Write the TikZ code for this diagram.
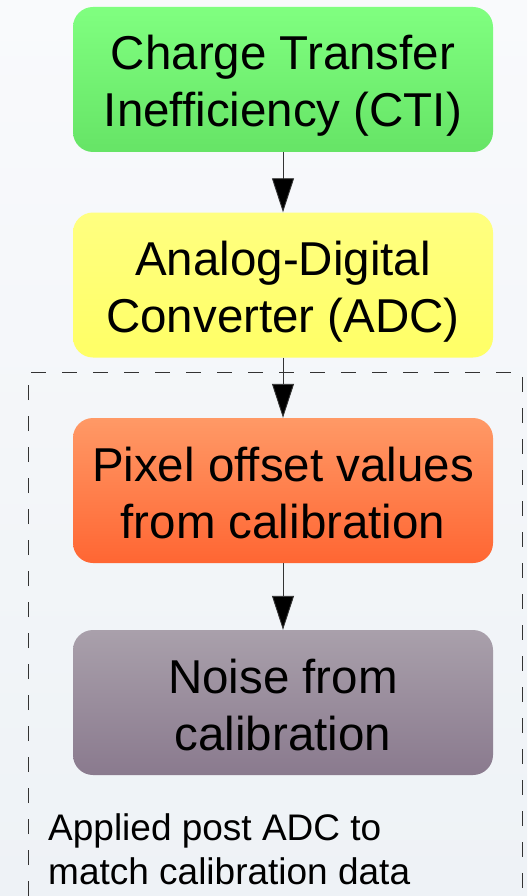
\documentclass[tikz,border=0pt]{standalone}
\usepackage{fontspec}
\setmainfont{Liberation Sans}
\usetikzlibrary{arrows.meta}
\definecolor{bgtop}{HTML}{F9FAFC}
\definecolor{bgbot}{HTML}{EEF2F6}
\definecolor{gtop}{HTML}{80FF80}
\definecolor{gbot}{HTML}{66E466}
\definecolor{ytop}{HTML}{FFFF80}
\definecolor{ybot}{HTML}{FFFF66}
\definecolor{otop}{HTML}{FF9966}
\definecolor{obot}{HTML}{FF6633}
\definecolor{ptop}{HTML}{A9A0AB}
\definecolor{pbot}{HTML}{8A7A8E}
\definecolor{edgegray}{HTML}{333333}
\tikzset{
  stagebox/.style={minimum width=420pt, minimum height=145pt, rounded corners=20pt, inner sep=0pt},
  stagetext/.style={anchor=base, align=center, inner sep=0pt, yshift=-47.5pt,
    font=\fontsize{47.5}{57}\selectfont, text=black},
  flow/.style={draw=edgegray, line width=0.9pt, -{Triangle[length=34pt,width=22pt,fill=black]}},
  cluster/.style={draw=edgegray, line width=0.9pt, dash pattern=on 15pt off 16pt},
}
\begin{document}
\begin{tikzpicture}[x=1pt,y=-1pt]
\shade[top color=bgtop, bottom color=bgbot] (0,0) rectangle (527,896);
\useasboundingbox (0,0) rectangle (527,896);
\draw[cluster] (28,896) -- (28,372) -- (522,372) -- (522,896);
\node[stagebox, top color=gtop, bottom color=gbot] (cti) at (283,79.5) {};
\node[stagebox, top color=ytop, bottom color=ybot] (adc) at (283,285) {};
\node[stagebox, top color=otop, bottom color=obot] (pix) at (283,490.5) {};
\node[stagebox, top color=ptop, bottom color=pbot] (noise) at (283,702.5) {};
\node[stagetext] (ctitext) at (cti.center) {Charge Transfer\\Inefficiency (CTI)};
\node[stagetext] (adctext) at (adc.center) {Analog-Digital\\Converter (ADC)};
\node[stagetext] (pixtext) at (pix.center) {Pixel offset values\\from calibration};
\node[stagetext] (noisetext) at (noise.center) {Noise from\\calibration};
\draw[flow] (cti) -- (adc);
\draw[flow] (adc) -- (pix);
\draw[flow] (pix) -- (noise);
\node[anchor=base west, align=left, inner sep=0pt, font=\fontsize{37}{44}\selectfont] (lbl) at (48,884) {Applied post ADC to\\match calibration data};
\end{tikzpicture}
\end{document}
